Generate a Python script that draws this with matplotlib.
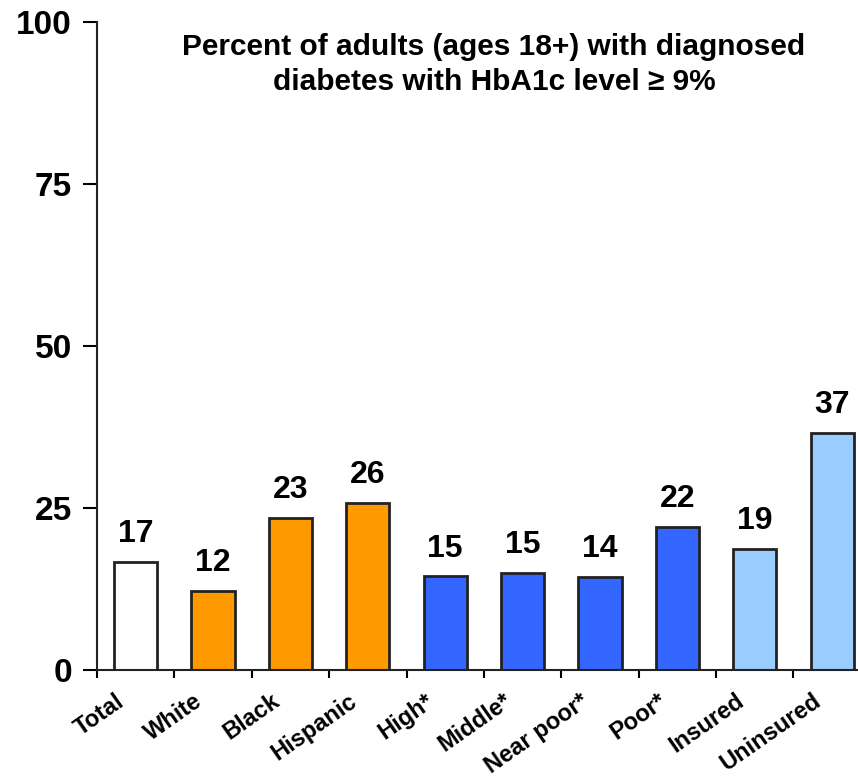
import numpy as np
import matplotlib.pyplot as plt
from matplotlib.transforms import ScaledTranslation

plt.rcParams['font.family'] = ['Liberation Sans', 'DejaVu Sans']
plt.rcParams['font.weight'] = 'bold'

categories = ["Total", "White", "Black", "Hispanic", "High*", "Middle*",
              "Near poor*", "Poor*", "Insured", "Uninsured"]
values = [16.7, 12.2, 23.5, 25.8, 14.5, 15.0, 14.4, 22.1, 18.7, 36.6]
value_labels = ["17", "12", "23", "26", "15", "15", "14", "22", "19", "37"]
colors = ["#FFFFFF", "#FF9900", "#FF9900", "#FF9900", "#3366FF", "#3366FF",
          "#3366FF", "#3366FF", "#99CCFF", "#99CCFF"]
yticks = [0, 25, 50, 75, 100]

fig = plt.figure(figsize=(8.58, 7.78), dpi=100)
ax = fig.add_axes([0.113, 0.1388, 0.902, 0.8329])

x = np.arange(len(categories))
bars = ax.bar(x, values, width=0.56, color=colors, edgecolor="#222222", linewidth=2)

for xi, v, lab in zip(x, values, value_labels):
    ax.annotate(lab, (xi, v), xytext=(0, 9), textcoords="offset points",
                ha="center", va="bottom", fontsize=23, fontweight="bold")

ax.set_xlim(-0.5, len(categories) - 0.5)
ax.set_ylim(0, 100)
ax.set_yticks(yticks)
ax.set_yticklabels([str(t) for t in yticks], fontsize=24, fontweight="bold")
ax.tick_params(axis="y", direction="out", length=10, width=1.5, pad=8)

ax.set_xticks(x)
ax.set_xticklabels(categories, rotation=35, ha="right", rotation_mode="anchor",
                   fontsize=17, fontweight="bold")
ax.tick_params(axis="x", which="major", length=0, pad=14)
# labels sit a bit left of the bar centres
shift = ScaledTranslation(-20 / 100, 0, fig.dpi_scale_trans)
for lbl in ax.get_xticklabels():
    lbl.set_transform(lbl.get_transform() + shift)
ax.set_xticks(np.arange(-0.5, len(categories), 1.0), minor=True)
ax.tick_params(axis="x", which="minor", direction="out", length=6, width=1.5)

for side in ["top", "right"]:
    ax.spines[side].set_visible(False)
for side in ["left", "bottom"]:
    ax.spines[side].set_linewidth(1.5)
    ax.spines[side].set_color("#222222")

fig.text(494 / 858, 1 - 33 / 778,
         "Percent of adults (ages 18+) with diagnosed\ndiabetes with HbA1c level \u2265 9%",
         ha="center", va="top", fontsize=21.5, fontweight="bold", linespacing=1.3)

fig.savefig("out.png", dpi=100)
